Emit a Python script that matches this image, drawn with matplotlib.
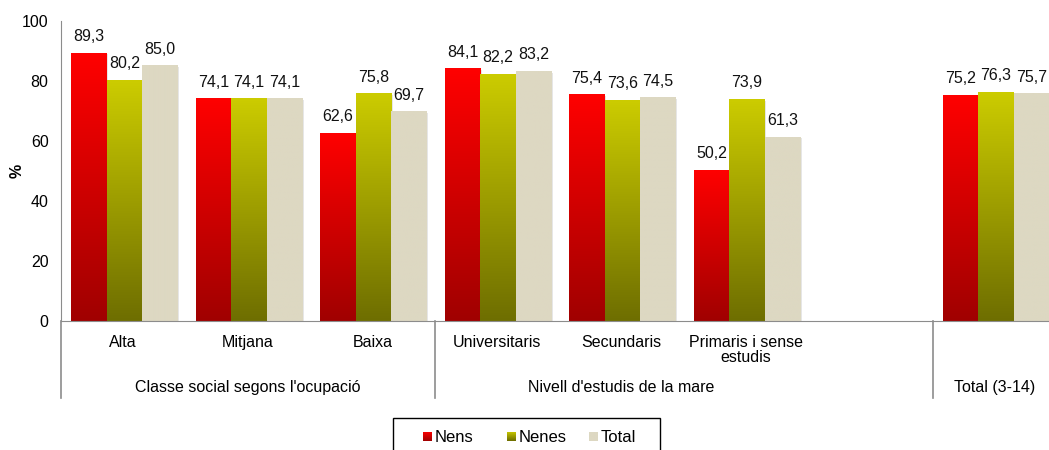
import numpy as np
import matplotlib
matplotlib.use('Agg')
import matplotlib.pyplot as plt
from matplotlib.colors import LinearSegmentedColormap
from matplotlib.patches import Rectangle
import matplotlib.transforms as mtransforms

plt.rcParams['font.family'] = ['Liberation Sans', 'DejaVu Sans']

categories = ['Alta', 'Mitjana', 'Baixa', 'Universitaris', 'Secundaris',
              'Primaris i sense\nestudis', '', '']
nens = [89.3, 74.1, 62.6, 84.1, 75.4, 50.2, None, 75.2]
nenes = [80.2, 74.1, 75.8, 82.2, 73.6, 73.9, None, 76.3]
total = [85.0, 74.1, 69.7, 83.2, 74.5, 61.3, None, 75.7]
groups = ["Classe social segons l'ocupació", "Nivell d'estudis de la mare", 'Total (3-14)']
group_centers = [1, 4, 7]
separators = [2.5, 6.5]

series = [('Nens', nens, '#ff0000', '#a00000'),
          ('Nenes', nenes, '#cccc00', '#6e6e00'),
          ('Total', total, '#ddd8c2', '#ddd8c2')]

FS = 11.5


def fx(px):
    return px / 1049


def fy(py):
    return 1 - py / 450


fig = plt.figure(figsize=(10.49, 4.5), dpi=100)
ax = fig.add_axes([fx(61), fy(321), 996 / 1049, 300 / 450])

w = 0.285
for i, (name, vals, top, bot) in enumerate(series):
    cmap = LinearSegmentedColormap.from_list(name, [bot, top])
    grad = np.linspace(0, 1, 256).reshape(-1, 1)
    for j, v in enumerate(vals):
        if v is None:
            continue
        x0 = j + (i - 1) * w - w / 2 + 0.01
        # soft shadow
        ax.add_patch(Rectangle((x0 + 0.012, 0), w, v - 0.4, color='#e6e6e6', zorder=1, lw=0))
        ax.imshow(grad, cmap=cmap, origin='lower', aspect='auto',
                  extent=(x0, x0 + w, 0, v), zorder=2, interpolation='bilinear')
        ax.text(x0 + w / 2, v + 3, f'{v:.1f}'.replace('.', ','), ha='center', va='bottom',
                fontsize=FS, color='#111111')
ax.set_xlim(-0.5, 7.5)
ax.set_ylim(0, 100)

for s in ['top', 'right']:
    ax.spines[s].set_visible(False)
ax.spines['bottom'].set_color('#8c8c8c')
ax.spines['left'].set_color('#8c8c8c')
ax.spines['bottom'].set_zorder(5)

ax.set_yticks(range(0, 101, 20))
ax.tick_params(axis='y', labelsize=FS, length=0, pad=9)
ax.set_xticks(range(len(categories)))
ax.set_xticklabels(categories, fontsize=FS, linespacing=1.0)
ax.tick_params(axis='x', length=0, pad=10)
fig.text(fx(17), fy(171), '%', rotation=90, ha='center', va='center',
         fontsize=FS, fontweight='bold')

trans = mtransforms.blended_transform_factory(ax.transData, ax.transAxes)
for xs in [-0.5] + separators:
    ax.plot([xs, xs], [0, -0.257], transform=trans, color='#8c8c8c', lw=1.2, clip_on=False)
for gx, gl in zip(group_centers, groups):
    ax.text(gx, -0.223, gl, transform=trans, ha='center', va='center', fontsize=FS)

# legend box drawn by hand (pixel layout of the reference)
fig.patches.append(Rectangle((fx(393), fy(452)), fx(660) - fx(393), fy(418) - fy(452),
                             transform=fig.transFigure, fill=False, edgecolor='black', lw=1.0))
for (name, _, top, bot), mx in zip(series, [423, 507, 589]):
    cmap = LinearSegmentedColormap.from_list(name + '_leg', [bot, top])
    lax = fig.add_axes([fx(mx), fy(441), 9 / 1049, 9 / 450])
    lax.imshow(np.linspace(0, 1, 32).reshape(-1, 1), cmap=cmap, origin='lower',
               aspect='auto', extent=(0, 1, 0, 1))
    lax.axis('off')
    fig.text(fx(mx + 12), fy(437), name, ha='left', va='center', fontsize=FS + 0.5)

fig.savefig('out.png', dpi=100)
